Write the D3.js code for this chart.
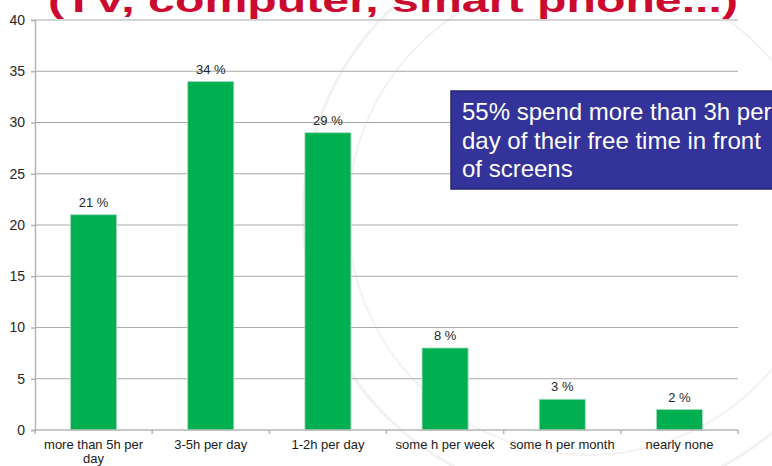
<!DOCTYPE html>
<html>
<head>
<meta charset="utf-8">
<script src="https://cdn.jsdelivr.net/npm/d3@7"></script>
<style>
  body { margin: 0; background: #fff; }
  svg { display: block; font-family: "Liberation Sans", Arial, sans-serif; }
</style>
</head>
<body>
<svg width="772" height="466"></svg>
<script>
// chart data
var categories = ["more than 5h per day", "3-5h per day", "1-2h per day",
                  "some h per week", "some h per month", "nearly none"];
var values = [21, 34, 29, 8, 3, 2];
var yTicks = [0, 5, 10, 15, 20, 25, 30, 35, 40];
var titleText = "(TV, computer, smart phone...)";
var noteLines = ["55% spend more than 3h per", "day of their free time in front", "of screens"];

var svg = d3.select("svg"),
    width = +svg.attr("width"),
    height = +svg.attr("height");

var plot = { left: 35, right: 738, top: 20, bottom: 430 };

// scales
var x = d3.scaleBand()
    .domain(categories)
    .range([plot.left, plot.right])
    .paddingInner(0.607)
    .paddingOuter(0.3035);

var y = d3.scaleLinear()
    .domain([0, 40])
    .range([plot.bottom, plot.top]);

// faint seal in the background
var seal = svg.append("g").attr("fill", "none").attr("stroke", "#f2f2f2");
seal.append("circle").attr("cx", 588).attr("cy", 215).attr("r", 285).attr("stroke-width", 3);
seal.append("circle").attr("cx", 588).attr("cy", 215).attr("r", 240).attr("stroke-width", 2);

// gridlines
svg.append("g")
    .selectAll("line")
    .data(yTicks.filter(function (d) { return d > 0; }))
    .enter().append("line")
    .attr("x1", plot.left)
    .attr("x2", plot.right)
    .attr("y1", function (d) { return y(d); })
    .attr("y2", function (d) { return y(d); })
    .attr("stroke", "#a9a9a9")
    .attr("stroke-width", 1.2);

// bars
svg.append("g")
    .selectAll("rect")
    .data(values)
    .enter().append("rect")
    .attr("x", function (d, i) { return x(categories[i]); })
    .attr("y", function (d) { return y(d); })
    .attr("width", x.bandwidth())
    .attr("height", function (d) { return y(0) - y(d); })
    .attr("fill", "#00b050")
    .attr("stroke", "#a6dcc0")
    .attr("stroke-width", 0.8);

// value labels
svg.append("g")
    .selectAll("text")
    .data(values)
    .enter().append("text")
    .attr("x", function (d, i) { return x(categories[i]) + x.bandwidth() / 2; })
    .attr("y", function (d) { return y(d) - 8; })
    .attr("text-anchor", "middle")
    .attr("font-size", 13)
    .attr("fill", "#262626")
    .text(function (d) { return d + " %"; });

// y axis
var yAxis = svg.append("g")
    .attr("transform", "translate(" + plot.left + ",0)")
    .call(d3.axisLeft(y).tickValues(yTicks).tickSize(4).tickPadding(6));
yAxis.select(".domain").attr("stroke", "#b5b5b5").attr("stroke-width", 1.5);
yAxis.selectAll(".tick line").attr("stroke", "#b5b5b5").attr("stroke-width", 1.5);
yAxis.selectAll(".tick text")
    .attr("font-family", "Liberation Sans, Arial, sans-serif")
    .attr("font-size", 14)
    .attr("fill", "#262626");

// x axis line with ticks on category boundaries
var xAxis = svg.append("g");
xAxis.append("line")
    .attr("x1", plot.left).attr("x2", plot.right)
    .attr("y1", y(0)).attr("y2", y(0))
    .attr("stroke", "#b5b5b5").attr("stroke-width", 1.5);
xAxis.selectAll(".xtick")
    .data(d3.range(categories.length + 1))
    .enter().append("line")
    .attr("class", "xtick")
    .attr("x1", function (i) { return plot.left + i * x.step(); })
    .attr("x2", function (i) { return plot.left + i * x.step(); })
    .attr("y1", y(0)).attr("y2", y(0) + 4)
    .attr("stroke", "#b5b5b5").attr("stroke-width", 1.5);

// category labels, wrapped to band width
var catLabels = xAxis.selectAll(".cat")
    .data(categories)
    .enter().append("text")
    .attr("class", "cat")
    .attr("x", function (d) { return x(d) + x.bandwidth() / 2; })
    .attr("y", y(0) + 19)
    .attr("text-anchor", "middle")
    .attr("font-size", 13)
    .attr("fill", "#1a1a1a")
    .text(function (d) { return d; });

catLabels.each(function (d) {
    var text = d3.select(this),
        words = d.split(" "),
        maxW = x.step() - 6,
        line = [],
        cx = text.attr("x");
    text.text(null);
    var tspan = text.append("tspan").attr("x", cx).attr("dy", 0);
    words.forEach(function (w) {
        line.push(w);
        tspan.text(line.join(" "));
        if (tspan.node().getComputedTextLength() > maxW && line.length > 1) {
            line.pop();
            tspan.text(line.join(" "));
            line = [w];
            tspan = text.append("tspan").attr("x", cx).attr("dy", 14).text(w);
        }
    });
});

// note box
var note = svg.append("g");
note.append("rect")
    .attr("x", 451).attr("y", 91)
    .attr("width", 340).attr("height", 98)
    .attr("fill", "#333399")
    .attr("stroke", "#262670")
    .attr("stroke-width", 1.5);
note.selectAll("text")
    .data(noteLines)
    .enter().append("text")
    .attr("x", 462)
    .attr("y", function (d, i) { return 120 + i * 28.5; })
    .attr("font-size", 24)
    .attr("fill", "#ffffff")
    .text(function (d) { return d; });

// title, clipped at the top edge (stretched wide like the slide)
svg.append("text")
    .attr("x", 48)
    .attr("y", 12)
    .attr("font-size", 33)
    .attr("font-weight", "bold")
    .attr("fill", "#cc0a2f")
    .attr("textLength", 690)
    .attr("lengthAdjust", "spacingAndGlyphs")
    .text(titleText);
</script>
</body>
</html>
